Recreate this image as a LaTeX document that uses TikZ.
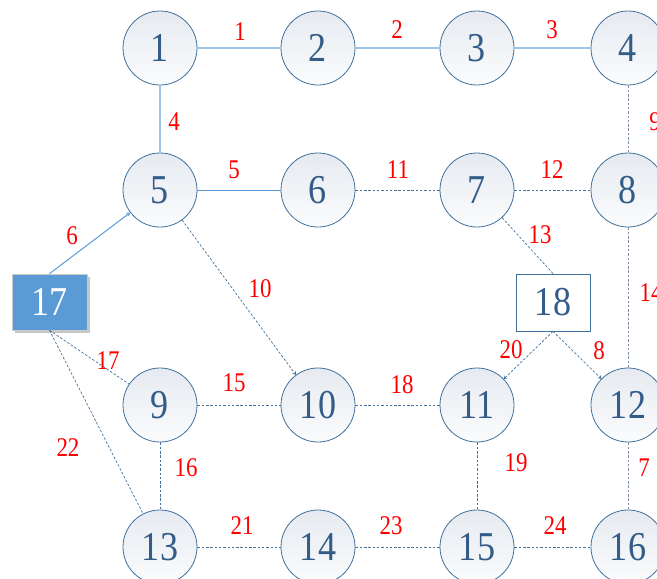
\documentclass[tikz,border=0pt]{standalone}
\usepackage{fontspec}
\setmainfont{Liberation Serif}
\usetikzlibrary{arrows.meta}
\definecolor{nodeborder}{HTML}{41719C}
\definecolor{nodetext}{HTML}{335D88}
\definecolor{lightline}{HTML}{9DC3E6}
\definecolor{midline}{HTML}{5B9BD5}
\definecolor{dashline}{HTML}{41719C}
\definecolor{grayline}{HTML}{7F8FA6}
\definecolor{topfill}{HTML}{E6EAF0}
\definecolor{botfill}{HTML}{FBFCFD}
\definecolor{boxfill}{HTML}{5B9BD5}
\newcommand{\nnum}[1]{\scalebox{0.88}[1]{#1}}
\newcommand{\lnum}[1]{\scalebox{0.85}[1]{#1}}
\tikzset{
  bus/.style={circle, draw=nodeborder, line width=0.8pt, minimum size=74pt, inner sep=0pt,
    top color=topfill, bottom color=botfill, text=nodetext, font=\fontsize{41}{41}\selectfont},
  filledbox/.style={rectangle, draw=botfill!60!gray, line width=0.6pt, fill=boxfill, minimum width=75pt, minimum height=56pt,
    inner sep=0pt, text=white, font=\fontsize{41}{41}\selectfont},
  openbox/.style={rectangle, draw=nodeborder, line width=0.8pt, fill=white, minimum width=74pt, minimum height=57pt,
    inner sep=0pt, text=nodetext, font=\fontsize{41}{41}\selectfont},
  lbl/.style={text=red, inner sep=0pt, font=\fontsize{27}{27}\selectfont},
  solidL/.style={draw=lightline, line width=1.3pt},
  solidM/.style={draw=midline, line width=1pt},
  dashE/.style={draw=dashline, line width=0.7pt, dash pattern=on 2.5pt off 1.8pt},
  grayE/.style={draw=grayline, line width=0.7pt, dash pattern=on 2.5pt off 1.8pt},
  tip/.style={-{Straight Barb[length=2.5pt,width=3.5pt]}}
}
\begin{document}
\begin{tikzpicture}[x=1pt,y=-1pt]
\useasboundingbox (0,0) rectangle (657,579);
% nodes
\node[bus] (n1) at (160,48) {\nnum{1}};
\node[bus] (n2) at (318,48) {\nnum{2}};
\node[bus] (n3) at (477,48) {\nnum{3}};
\node[bus] (n4) at (628,48) {\nnum{4}};
\node[bus] (n5) at (160,190) {\nnum{5}};
\node[bus] (n6) at (318,190) {\nnum{6}};
\node[bus] (n7) at (477,190) {\nnum{7}};
\node[bus] (n8) at (628,190) {\nnum{8}};
\node[bus] (n9) at (160,405) {\nnum{9}};
\node[bus] (n10) at (318,405) {\nnum{10}};
\node[bus] (n11) at (477,405) {\nnum{11}};
\node[bus] (n12) at (628,405) {\nnum{12}};
\node[bus] (n13) at (160,547) {\nnum{13}};
\node[bus] (n14) at (318,547) {\nnum{14}};
\node[bus] (n15) at (477,547) {\nnum{15}};
\node[bus] (n16) at (628,547) {\nnum{16}};
\fill[gray!45] (15,277) rectangle (90,333);
\node[filledbox] (n17) at (49.5,302) {\nnum{17}};
\node[openbox] (n18) at (553,302.5) {\nnum{18}};
% solid edges
\draw[solidL] (n1) -- (n2);
\draw[solidL] (n2) -- (n3);
\draw[solidL] (n3) -- (n4);
\draw[solidL] (n1) -- (n5);
\draw[solidM] (n5) -- (n6);
\draw[solidM,tip] (n17.north) -- (n5);
% dashed edges
\draw[dashE] (n6) -- (n7);
\draw[dashE] (n7) -- (n8);
\draw[grayE] (n4) -- (n8);
\draw[grayE] (n8) -- (n12);
\draw[dashE] (n7) -- (n18.north);
\draw[dashE,tip] (n5) -- (n10);
\draw[dashE] (n17.south) -- (n9);
\draw[dashE] (n17.south) -- (n13);
\draw[dashE] (n9) -- (n10);
\draw[dashE] (n10) -- (n11);
\draw[dashE] (n9) -- (n13);
\draw[dashE] (n11) -- (n15);
\draw[grayE] (n12) -- (n16);
\draw[dashE] (n13) -- (n14);
\draw[dashE] (n14) -- (n15);
\draw[dashE] (n15) -- (n16);
\draw[dashE,tip] (n18.south) -- (n11);
\draw[dashE,tip] (n18.south) -- (n12);
% labels
\node[lbl] (l1) at (240,32) {\lnum{1}};
\node[lbl] (l2) at (397,30) {\lnum{2}};
\node[lbl] (l3) at (552,30) {\lnum{3}};
\node[lbl] (l4) at (174,122) {\lnum{4}};
\node[lbl] (l5) at (234,170) {\lnum{5}};
\node[lbl] (l11) at (398,170) {\lnum{11}};
\node[lbl] (l12) at (552,170) {\lnum{12}};
\node[lbl] (l9) at (655,122) {\lnum{9}};
\node[lbl] (l13) at (540,235) {\lnum{13}};
\node[lbl] (l6) at (72,236) {\lnum{6}};
\node[lbl] (l10) at (260,289) {\lnum{10}};
\node[lbl] (l14) at (651,293) {\lnum{14}};
\node[lbl] (l17) at (108,361) {\lnum{17}};
\node[lbl] (l20) at (511,350) {\lnum{20}};
\node[lbl] (l8) at (599,351) {\lnum{8}};
\node[lbl] (l15) at (234,383) {\lnum{15}};
\node[lbl] (l18) at (402,385) {\lnum{18}};
\node[lbl] (l22) at (68,448) {\lnum{22}};
\node[lbl] (l16) at (186,468) {\lnum{16}};
\node[lbl] (l19) at (516,463) {\lnum{19}};
\node[lbl] (l7) at (644,468) {\lnum{7}};
\node[lbl] (l21) at (242,526) {\lnum{21}};
\node[lbl] (l23) at (391,526) {\lnum{23}};
\node[lbl] (l24) at (555,526) {\lnum{24}};
\end{tikzpicture}
\end{document}
